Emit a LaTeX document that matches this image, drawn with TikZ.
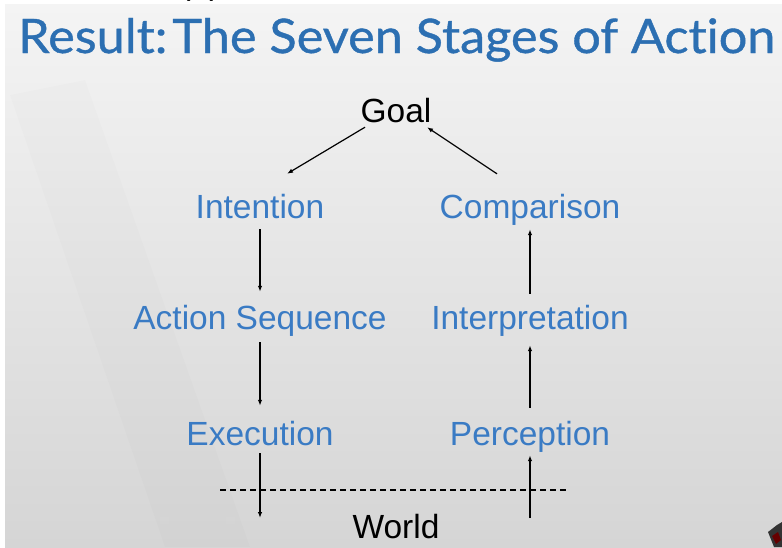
\documentclass[tikz,border=0pt]{standalone}
\usepackage{fontspec}
\usepackage{graphicx}
\setmainfont{Liberation Sans}
\newfontfamily\titlefont[FakeBold=0.8,Ligatures={NoCommon,NoRequired,NoContextual}]{Lato}
\usetikzlibrary{arrows.meta,calc}

\definecolor{titleblue}{HTML}{2C6FB2}
\definecolor{stageblue}{HTML}{3A7BC4}
\definecolor{slidetop}{HTML}{F4F4F4}
\definecolor{slidebottom}{HTML}{D5D5D5}

\tikzset{
  stage/.style={font=\fontsize{33.5}{40}\selectfont, text=stageblue, inner sep=0pt,
                text height=25pt, text depth=7pt, anchor=base},
  plain/.style={stage, text=black},
  flow/.style={line width=1.2pt, -{Latex[length=6pt,width=4.5pt]}},
  border/.style={line width=1.2pt, dash pattern=on 6pt off 4pt},
}

\begin{document}
\begin{tikzpicture}[x=1pt,y=-1pt]
  \useasboundingbox (0,0) rectangle (782,547);
  \clip (0,0) rectangle (782,547);

  % page and slide background
  \fill[white] (0,0) rectangle (782,547);
  \shade[top color=slidetop, bottom color=slidebottom] (5,4) rectangle (782,547);

  % faint film strip running down the left side
  \begin{scope}[opacity=0.012]
    \fill[black] (10,95) -- (85,80) -- (250,547) -- (165,547) -- cycle;
  \end{scope}
  \begin{scope}[opacity=0.025]
    \foreach \t in {0.04,0.10,...,0.98} {
      \fill[white] ($(18,102)!\t!(173,547)$) ++(-4,-3) rectangle ++(9,7);
      \fill[white] ($(74,88)!\t!(240,547)$) ++(-4,-3) rectangle ++(9,7);
    }
  \end{scope}

  % label cut off by the top edge
  \node[plain, text=black] (tag) at (200,-6) {(b)};

  % title
  \node[anchor=base west, inner sep=0pt, text=titleblue] (title) at (18,53)
    {\resizebox{757pt}{35pt}{\titlefont Result:\hspace{0.1em}The Seven Stages of Action}};

  % stages
  \node[plain] (goal) at (396,122) {Goal};
  \node[stage] (int)  at (260,218) {Intention};
  \node[stage] (cmp)  at (530,218) {Comparison};
  \node[stage] (act)  at (260,329) {Action Sequence};
  \node[stage] (itp)  at (530,329) {Interpretation};
  \node[stage] (exe)  at (260,445) {Execution};
  \node[stage] (per)  at (530,445) {Perception};
  \node[plain] (world) at (396,538) {World};

  % world boundary
  \coordinate (bl) at (220,490);
  \coordinate (br) at (568,490);
  \draw[border] (bl) -- (br);

  % free ends of the arrows crossing the boundary
  \coordinate (wl) at (260,518);
  \coordinate (wr) at (530,518);

  % execution side
  \draw[flow] ([xshift=-31pt,yshift=2pt]goal.south) -- ([xshift=27pt,yshift=19pt]int.north);
  \draw[flow] ([yshift=-4pt]int.south) -- ([yshift=12pt]act.north);
  \draw[flow] ([yshift=-6pt]act.south) -- ([yshift=14pt]exe.north);
  \draw[flow] ([yshift=-1pt]exe.south) -- (wl);

  % evaluation side
  \draw[flow] (wr) -- ([yshift=-3pt]per.south);
  \draw[flow] ([yshift=12pt]per.north) -- ([yshift=-9pt]itp.south);
  \draw[flow] ([yshift=10pt]itp.north) -- ([yshift=-4pt]cmp.south);
  \draw[flow] ([xshift=-33pt,yshift=19pt]cmp.north) -- ([xshift=31pt,yshift=2pt]goal.south);

  % corner of a picture at the bottom right
  \fill[black!80] (768,532) -- (777,525) -- (782,522) -- (782,547) -- (774,547) -- cycle;
  \fill[red!40!black] (772,536) -- (778,532) -- (781,540) -- (776,544) -- cycle;
\end{tikzpicture}
\end{document}
